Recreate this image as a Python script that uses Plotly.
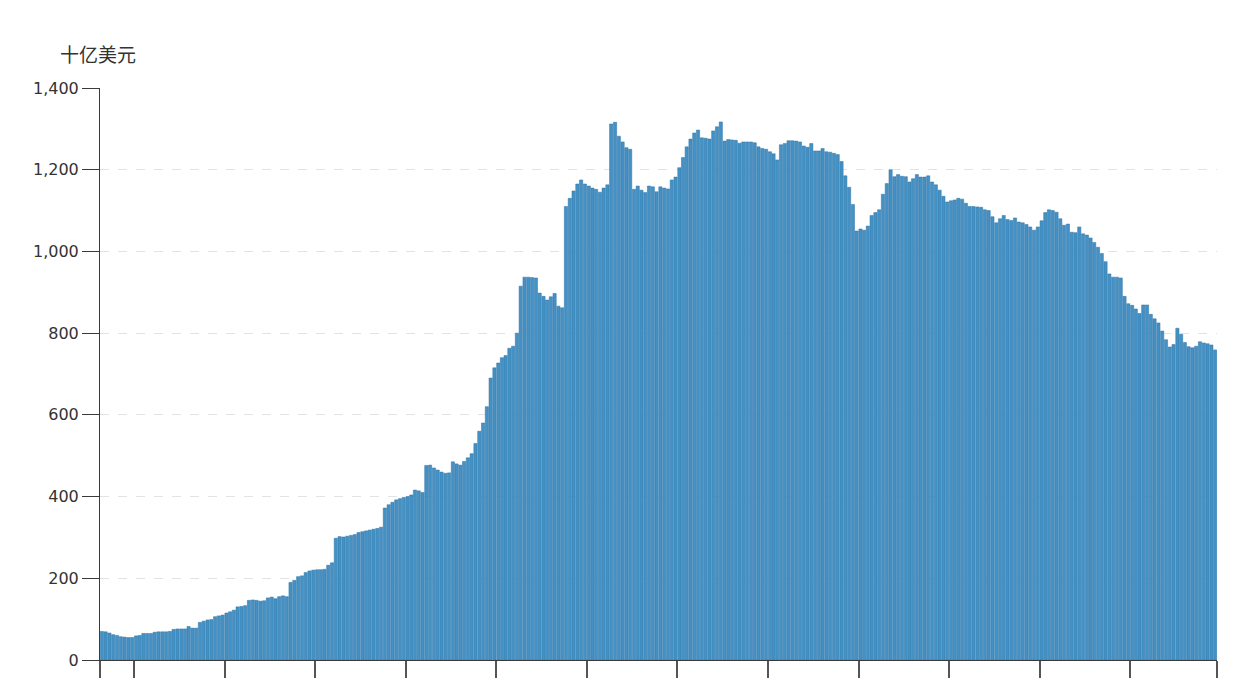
import pandas as pd
import plotly.graph_objects as go

# Monthly holdings, billions of US dollars (one bar per month, 296 bars)
start_month = "2000-04-01"
holdings = [
    # 2000 (10)
    70, 69, 66, 62, 60, 57, 56, 55, 55, 59,
    # 2001
    60, 65, 65, 65, 68, 69, 69, 69, 70, 75, 76, 76,
    # 2002
    76, 82, 78, 78, 92, 95, 98, 99, 106, 108, 110, 115,
    # 2003
    118, 122, 130, 131, 133, 146, 147, 146, 144, 145, 152, 154,
    # 2004
    150, 155, 157, 155, 190, 195, 204, 206, 214, 218, 220, 221,
    # 2005
    221, 222, 232, 238, 298, 302, 301, 303, 305, 307, 312, 314,
    # 2006
    316, 318, 320, 322, 325, 372, 380, 386, 392, 395, 398, 400,
    # 2007
    404, 416, 414, 410, 476, 477, 470, 465, 460, 457, 458, 485,
    # 2008
    480, 477, 486, 495, 505, 530, 560, 580, 620, 690, 715, 727,
    # 2009
    740, 745, 763, 768, 800, 915, 937, 937, 936, 935, 898, 890,
    # 2010
    881, 889, 897, 866, 862, 1110, 1130, 1148, 1165, 1175, 1165, 1160,
    # 2011
    1155, 1152, 1145, 1155, 1163, 1312, 1316, 1282, 1268, 1254, 1250, 1152,
    # 2012
    1160, 1150, 1144, 1160, 1158, 1146, 1158, 1155, 1153, 1175, 1182, 1205,
    # 2013
    1230, 1256, 1275, 1290, 1297, 1278, 1277, 1275, 1295, 1305, 1317, 1270,
    # 2014
    1274, 1273, 1272, 1265, 1268, 1268, 1268, 1266, 1256, 1252, 1250, 1244,
    # 2015
    1239, 1224, 1261, 1264, 1271, 1271, 1270, 1268, 1258, 1255, 1264, 1246,
    # 2016
    1246, 1252, 1244, 1243, 1240, 1237, 1220, 1185, 1157, 1115, 1050, 1055,
    # 2017
    1052, 1062, 1088, 1095, 1102, 1140, 1166, 1200, 1183, 1188, 1184, 1183,
    # 2018
    1170, 1178, 1188, 1182, 1182, 1185, 1170, 1163, 1150, 1135, 1121, 1124,
    # 2019
    1126, 1130, 1128, 1118, 1110, 1110, 1109, 1108, 1102, 1100, 1085, 1070,
    # 2020
    1080, 1088, 1078, 1076, 1082, 1072, 1070, 1066, 1060, 1052, 1060, 1075,
    # 2021
    1095, 1102, 1100, 1096, 1080, 1064, 1067, 1047, 1046, 1060, 1043, 1040,
    # 2022
    1033, 1022, 1010, 995, 975, 945, 937, 937, 935, 890, 872, 868,
    # 2023
    859, 848, 869, 869, 846, 835, 825, 805, 784, 766, 772, 812,
    # 2024 (10)
    797, 777, 767, 764, 768, 779, 776, 774, 771, 759,
]
months = pd.date_range(start_month, periods=len(holdings), freq="MS")
x_end = months[-1] + pd.DateOffset(months=1)

y_ticks = [0, 200, 400, 600, 800, 1000, 1200, 1400]
y_tick_text = ["0", "200", "400", "600", "800", "1,000", "1,200", "1,400"]
x_ticks = [months[0]] + list(pd.date_range("2001-01-01", "2023-01-01", freq="24MS")) + [x_end]
unit_label = "十亿美元"

AXIS = "#3a3a3a"
FONT = "Noto Sans CJK SC, Noto Sans, sans-serif"
TICK_FONT = "DejaVu Sans, Noto Sans, sans-serif"

fig = go.Figure(
    go.Bar(
        x=months,
        y=holdings,
        xperiod="M1",
        xperiodalignment="middle",
        marker=dict(color="rgb(68,146,197)", line=dict(color="rgb(46,114,165)", width=0.5)),
        hoverinfo="x+y",
    )
)

# the page body has an 8px default margin; margins below compensate for it
fig.update_layout(
    width=1242,
    height=679,
    paper_bgcolor="white",
    plot_bgcolor="white",
    margin=dict(l=92, r=33, t=80, b=27),
    bargap=0.12,
    showlegend=False,
    font=dict(family=FONT, color="#333333", size=16),
    annotations=[
        dict(
            text=unit_label,
            xref="paper", yref="paper",
            x=0, y=1.0,
            xanchor="center", yanchor="middle",
            xshift=-2, yshift=35,
            showarrow=False,
            font=dict(family=FONT, size=19, color="#333333"),
        )
    ],
)

fig.update_yaxes(
    range=[0, 1400],
    tickvals=y_ticks,
    ticktext=y_tick_text,
    ticks="outside",
    ticklen=17,
    tickwidth=1,
    tickcolor=AXIS,
    showline=True,
    linecolor=AXIS,
    linewidth=1,
    showgrid=True,
    gridcolor="#e3e3e3",
    griddash="dash",
    gridwidth=1,
    zeroline=False,
    automargin=False,
    tickfont=dict(family=TICK_FONT, size=16, color="#333333"),
)

fig.update_xaxes(
    type="date",
    range=[months[0], x_end],
    tickvals=x_ticks,
    ticks="outside",
    ticklen=17,
    tickwidth=1.6,
    tickcolor="#555555",
    showticklabels=False,
    showline=True,
    linecolor=AXIS,
    linewidth=1,
    showgrid=False,
    zeroline=False,
    automargin=False,
)

fig.write_html("out.html")
